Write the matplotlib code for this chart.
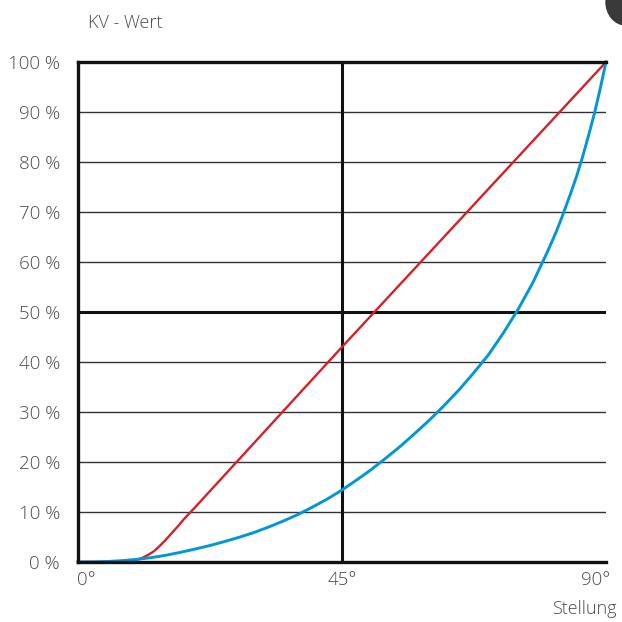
import matplotlib
matplotlib.use("Agg")
import matplotlib.pyplot as plt
from matplotlib.patches import Ellipse

# Data
red_x = [0, 7, 8, 9, 10, 11, 12, 13, 14, 15, 16, 17, 18, 20, 45, 90]
red_y = [0, 0, 0.05, 0.2, 0.45, 0.85, 1.45, 2.2, 3.3, 4.5, 5.8, 7.1, 8.5, 11, 43, 100]

blue_x = [0, 2.5, 5, 7.5, 10, 12.5, 15, 17.5, 20, 22.5, 25, 27.5, 30, 32.5, 35, 37.5, 40,
          42.5, 45, 47.5, 50, 52.5, 55, 57.5, 60, 62.5, 65, 67.5, 70, 72.5, 75, 77.5,
          80, 81.5, 82.5, 84, 85, 86, 87, 88, 89, 90]
blue_y = [0, 0.02, 0.1, 0.27, 0.52, 0.88, 1.35, 1.95, 2.6, 3.3, 4.1, 4.95, 5.9, 7.0, 8.2, 9.5, 11.0,
          12.6, 14.4, 16.4, 18.5, 20.8, 23.2, 25.8, 28.5, 31.4, 34.5, 37.9, 41.5, 45.8, 50.5, 55.8,
          62, 66, 69, 73.8, 77.2, 81.0, 85.2, 89.6, 94.6, 100]

y_ticks = [0, 10, 20, 30, 40, 50, 60, 70, 80, 90, 100]
y_labels = [f"{v} %" for v in y_ticks]
x_ticks = [0, 45, 90]
x_labels = ["0°", "45°", "90°"]

fam = ["Open Sans", "DejaVu Sans"]
plt.rcParams['font.family'] = fam
txt_color = "#4a4a4a"

fig = plt.figure(figsize=(6.22, 6.22), dpi=100)
ax = fig.add_axes([78/622, 60/622, 528/622, 500/622])
ax.set_xlim(0, 90)
ax.set_ylim(0, 100)

for v in y_ticks[1:-1]:
    if v == 50:
        ax.axhline(v, color="#111111", lw=2.2, zorder=2)
    else:
        ax.axhline(v, color="#333333", lw=1.0, zorder=2)
ax.axvline(45, color="#111111", lw=2.2, zorder=2)

ax.plot(red_x, red_y, color="#d42027", lw=1.7, zorder=3, clip_on=False, solid_joinstyle="round")
ax.plot(blue_x, blue_y, color="#0097d7", lw=2.1, zorder=3, clip_on=False, solid_joinstyle="round")

for s in ["left", "top", "bottom"]:
    ax.spines[s].set_linewidth(2.4)
    ax.spines[s].set_color("#111111")
    ax.spines[s].set_zorder(4)
ax.spines["right"].set_visible(False)

ax.set_yticks(y_ticks)
ax.set_yticklabels(y_labels, fontsize=13.5, color=txt_color, fontweight="light")
ax.set_xticks([])
ax.tick_params(axis='y', length=0, pad=13)

for xv, lab, ha, dx in zip(x_ticks, x_labels, ["left", "center", "right"], [-1.5, 0, 4.5]):
    fig.text((78 + xv / 90 * 528 + dx) / 622, 1 - 580/622, lab, fontsize=13.5,
             color=txt_color, ha=ha, va="center", fontweight="light")

fig.text(617/622, 1 - 609/622, "Stellung", fontsize=13, color=txt_color, ha="right", va="center",
         fontweight="light")
fig.text(88/622, 1 - 23/622, "KV - Wert", fontsize=13, color=txt_color, ha="left", va="center",
         fontweight="light")

fig.patches.append(Ellipse((626/622, 1 - 2/622), 40/622, 46/622, transform=fig.transFigure,
                           color="#3a3a3a", zorder=0))

fig.savefig("out.png", dpi=100)
